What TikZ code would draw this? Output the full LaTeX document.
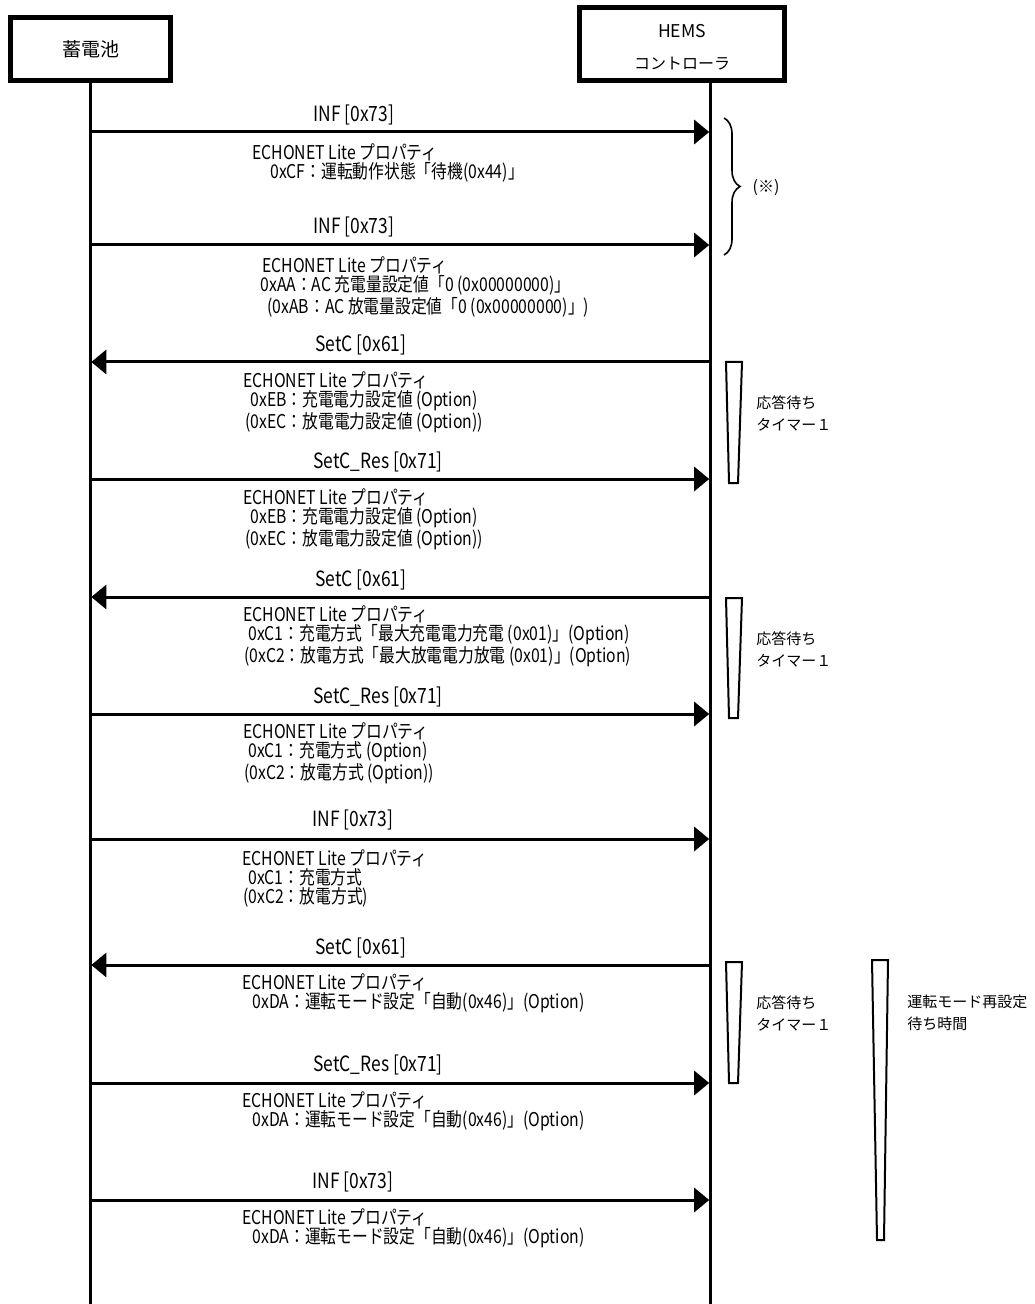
\documentclass[tikz,border=0pt]{standalone}
\usepackage{fontspec}
\setmainfont{Noto Sans CJK JP}
\newfontfamily\msgfont[FakeStretch=0.83]{Noto Sans CJK JP}
\usetikzlibrary{arrows.meta,decorations.pathreplacing}

\begin{document}
\begin{tikzpicture}[x=0.5pt, y=-0.5pt,
  actor/.style={draw, line width=2.5pt, inner sep=0, align=center},
  life/.style={line width=1.5pt},
  msg/.style={line width=1.5pt, -{Triangle[length=7.5pt,width=12pt]}, shorten >=0.4pt},
  lbl/.style={anchor=west, inner sep=0, font=\msgfont\fontsize{10.5}{12}\selectfont},
  prop/.style={anchor=north west, inner sep=0, align=left,
               font=\msgfont\fontsize{9.5}{9.6}\selectfont},
  timer/.style={draw, line width=1pt},
  note/.style={anchor=north west, inner sep=0, align=left,
               font=\fontsize{7.5}{11}\selectfont}]
\useasboundingbox (0,0) rectangle (1034,1304);
% --- actors and lifelines ---
\node[actor, minimum width=80pt, minimum height=31.5pt,
  font=\fontsize{9.5}{11}\selectfont] (bat) at (90.5,49) {蓄電池};
\node[actor, minimum width=102.5pt, minimum height=36.5pt,
  font=\fontsize{8}{16}\selectfont] (hems) at (682,44)
  {\rule{0pt}{10pt}\fontsize{8.8}{16}\selectfont HEMS\\コントローラ};
\coordinate (batend) at (90.5,1304);
\coordinate (hemsend) at (710,1304);
\draw[life] (bat.south) -- (batend);
\draw[life] (hems.south -| hemsend) -- (hemsend);
% --- message rows ---
\foreach \n/\y in {1/132, 2/245, 3/362, 4/479, 5/597,
                   6/714, 7/839, 8/965, 9/1083, 10/1200}{
  \coordinate (b\n) at (90.5,\y);
  \coordinate (h\n) at (710,\y);
}
\draw[msg] (b1) -- (h1);
\node[lbl] (m1) at (313,115) {INF [0x73]};
\node[prop] (p1) at (252,143) {ECHONET Lite プロパティ\\
  \hspace*{9pt}0xCF：運転動作状態「待機(0x44)」};

\draw[msg] (b2) -- (h2);
\node[lbl] (m2) at (313,227) {INF [0x73]};
\node[prop] (p2) at (260,256) {\hspace*{1pt}ECHONET Lite プロパティ\\
  0xAA：AC 充電量設定値「0 (0x00000000)」\\
  \hspace*{3.5pt}(0xAB：AC 放電量設定値「0 (0x00000000)」)};

\draw[msg] (h3) -- (b3);
\node[lbl] (m3) at (315,345) {SetC [0x61]};
\node[prop] (p3) at (243,371) {ECHONET Lite プロパティ\\
  \hspace*{3.5pt}0xEB：充電電力設定値 (Option)\\
  \hspace*{1pt}(0xEC：放電電力設定値 (Option))};

\draw[msg] (b4) -- (h4);
\node[lbl] (m4) at (313,462) {SetC\_Res [0x71]};
\node[prop] (p4) at (243,488) {ECHONET Lite プロパティ\\
  \hspace*{3.5pt}0xEB：充電電力設定値 (Option)\\
  \hspace*{1pt}(0xEC：放電電力設定値 (Option))};

\draw[msg] (h5) -- (b5);
\node[lbl] (m5) at (315,580) {SetC [0x61]};
\node[prop] (p5) at (243,605) {ECHONET Lite プロパティ\\
  \hspace*{2.5pt}0xC1：充電方式「最大充電電力充電 (0x01)」(Option)\\
  \hspace*{0.5pt}(0xC2：放電方式「最大放電電力放電 (0x01)」(Option)};

\draw[msg] (b6) -- (h6);
\node[lbl] (m6) at (313,697) {SetC\_Res [0x71]};
\node[prop] (p6) at (243,722) {ECHONET Lite プロパティ\\
  \hspace*{2.5pt}0xC1：充電方式 (Option)\\
  \hspace*{0.5pt}(0xC2：放電方式 (Option))};

\draw[msg] (b7) -- (h7);
\node[lbl] (m7) at (312,820) {INF [0x73]};
\node[prop] (p7) at (242,849) {ECHONET Lite プロパティ\\
  \hspace*{3pt}0xC1：充電方式\\
  \hspace*{0.5pt}(0xC2：放電方式)};

\draw[msg] (h8) -- (b8);
\node[lbl] (m8) at (315,948) {SetC [0x61]};
\node[prop] (p8) at (242,973) {ECHONET Lite プロパティ\\
  \hspace*{5pt}0xDA：運転モード設定「自動(0x46)」(Option)};

\draw[msg] (b9) -- (h9);
\node[lbl] (m9) at (313,1065) {SetC\_Res [0x71]};
\node[prop] (p9) at (242,1091) {ECHONET Lite プロパティ\\
  \hspace*{5pt}0xDA：運転モード設定「自動(0x46)」(Option)};

\draw[msg] (b10) -- (h10);
\node[lbl] (m10) at (312,1182) {INF [0x73]};
\node[prop] (p10) at (242,1208) {ECHONET Lite プロパティ\\
  \hspace*{5pt}0xDA：運転モード設定「自動(0x46)」(Option)};
% --- brace and timers ---
\draw[line width=0.8pt, decorate, decoration={brace, amplitude=8pt}]
  (724,118) -- (724,255);
\node[font=\fontsize{8}{10}\selectfont] (remark) at (766,188) {(※)};
\foreach \t/\b/\m in {362/483/a, 598/718/b, 962/1083/c}{
  \draw[timer] (726,\t) -- (742,\t) -- (738,\b) -- (729,\b) -- cycle;
  \node[note] (wait\m) at (756,\t+33) {応答待ち\\タイマー１};
}
\draw[timer] (872,960) -- (888,960) -- (884,1240) -- (877,1240) -- cycle;
\node[note] (modewait) at (907,994) {運転モード再設定\\待ち時間};
\end{tikzpicture}
\end{document}
